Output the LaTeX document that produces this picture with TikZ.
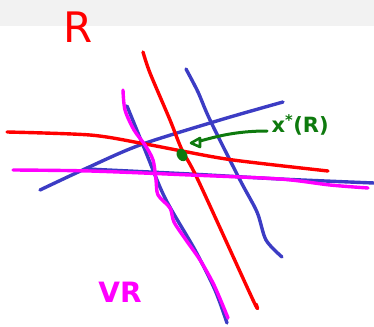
\documentclass[tikz,border=0pt]{standalone}
\usepackage{fontspec}
\setmainfont{DejaVu Sans}
\begin{document}
\begin{tikzpicture}[x=1pt,y=-1pt,
  stroke/.style={line width=3.4pt,line cap=round,line join=round}]
\definecolor{pred}{HTML}{FF0000}
\definecolor{pblue}{HTML}{3C3CC4}
\definecolor{pmag}{HTML}{FF00FF}
\definecolor{pgreen}{HTML}{0E7A0E}
\useasboundingbox (0,0) rectangle (374,326);
\fill[gray!10] (0,0) rectangle (374,26);
% blue lines
\draw[stroke,pblue] plot[smooth] coordinates {(186,69) (198,92) (210,120) (240,180) (257,212) (266,240) (282,257)};
\draw[stroke,pblue] plot[smooth] coordinates {(40,190) (87,168) (140,145) (220,120) (283,102)};
\draw[stroke,pblue] plot[smooth] coordinates {(87,169) (190,174) (280,179) (374,183)};
\draw[stroke,pblue] plot[smooth] coordinates {(127,106) (145,150) (165,198) (195,250) (215,290) (227,323)};
% red lines
\draw[stroke,pred] plot[smooth] coordinates {(143,52) (150,73) (170,120) (182,150) (198,180) (253,300) (256,304)};
\draw[stroke,pred] plot[smooth] coordinates {(7,132) (90,135) (140,143) (182,151) (233,160) (328,171)};
% magenta lines
\draw[stroke,pmag] plot[smooth] coordinates {(13,170) (90,171) (190,175) (280,179) (330,185) (368,188)};
\draw[stroke,pmag] plot[smooth] coordinates {(123,90) (125,110) (134,130) (145,145) (153,160) (156,180) (158,195) (170,208) (174,222) (186,240) (200,260) (214,285) (228,318)};
% green mark
\fill[pgreen,rotate around={30:(182,155)}] (182,155) ellipse (5pt and 6.5pt);
\coordinate (tip) at (191,143);
\coordinate (tail) at (267,131);
\draw[stroke,pgreen,line width=3pt] (tail) .. controls (235,131) and (215,137) .. (200,141);
\draw[stroke,pgreen,line width=2.6pt] (200,138) -- (tip) -- (200,147) -- cycle;
\node[text=pgreen,anchor=west,font=\fontsize{21}{21}\selectfont\bfseries] (xs) at (268,125) {x\textsuperscript{*}(R)};
% labels
\node[text=pred,font=\fontsize{42}{42}\selectfont] (R) at (78,27) {R};
\node[text=pmag,font=\fontsize{28}{28}\selectfont\bfseries] (VR) at (120,292) {VR};
\end{tikzpicture}
\end{document}
